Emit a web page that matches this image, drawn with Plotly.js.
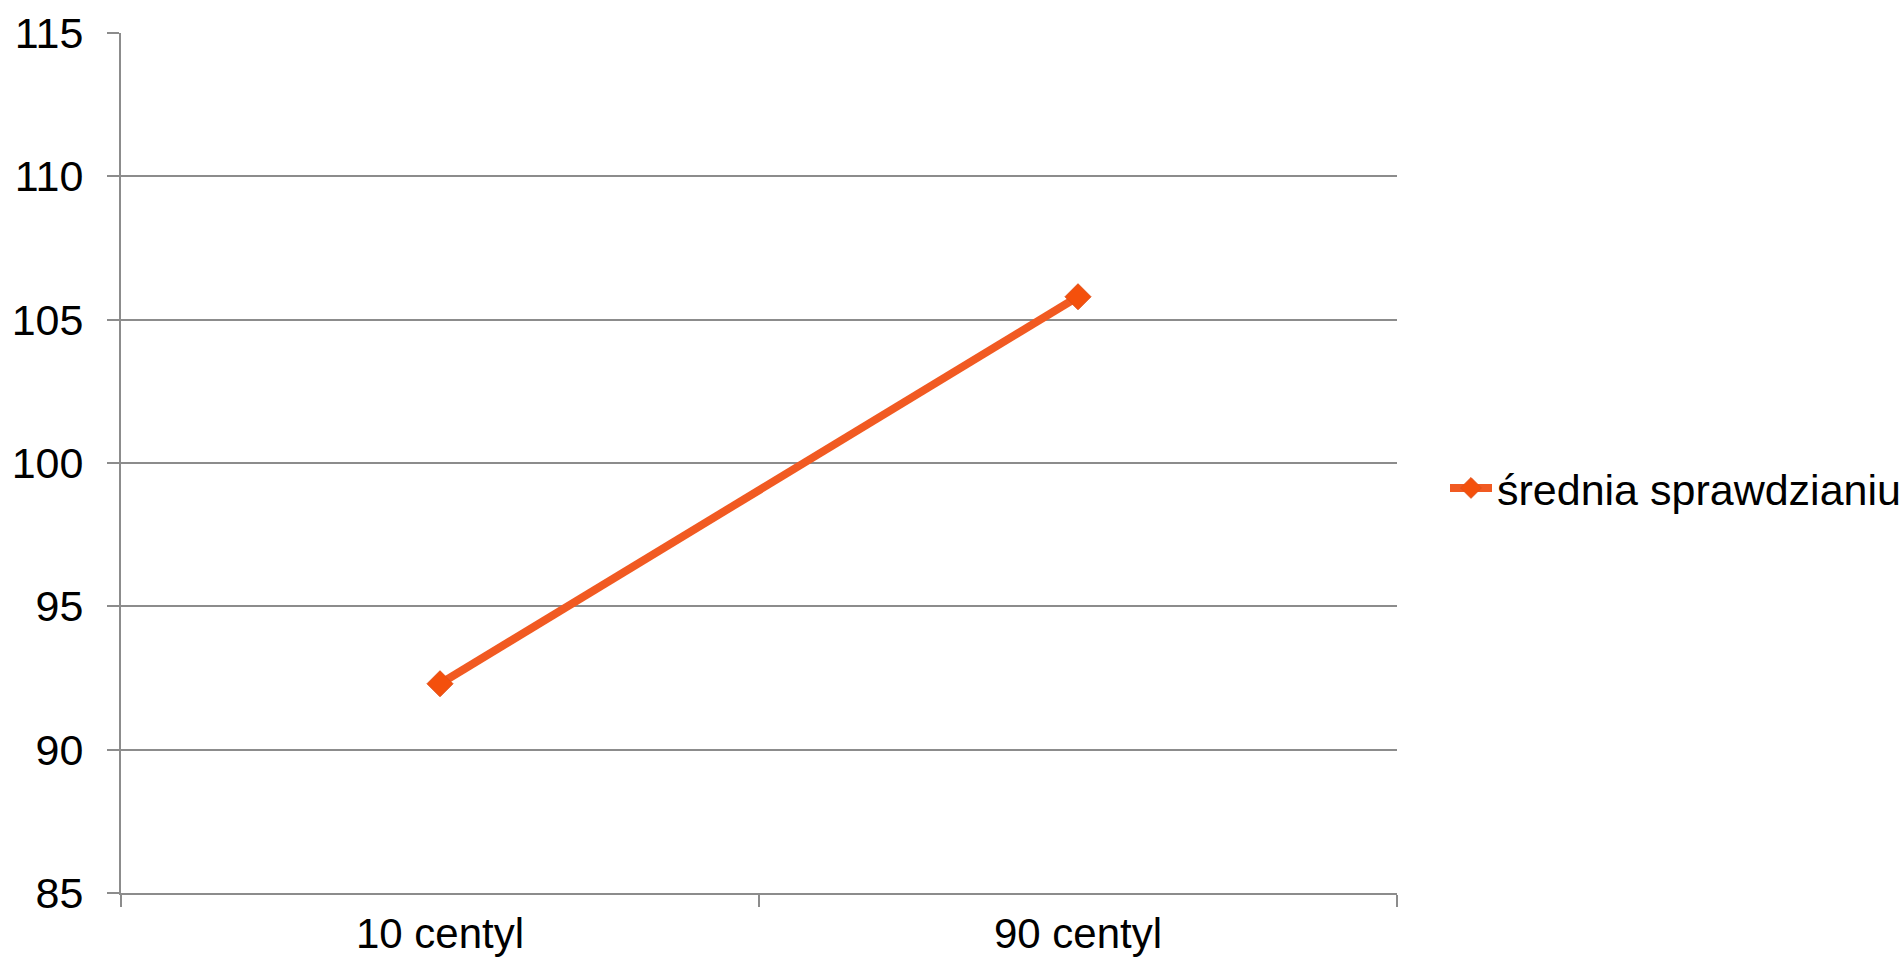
<!DOCTYPE html>
<html>
<head>
<meta charset="utf-8">
<script src="https://cdn.plot.ly/plotly-3.0.1.min.js"></script>
<style>html,body{margin:0;padding:0;background:#fff;}#chart{width:1900px;height:966px;}</style>
</head>
<body>
<div id="chart"></div>
<script>
const categories = ["10 centyl", "90 centyl"];
const seriesName = "średnia sprawdzianiu";
const seriesValues = [92.3, 105.8];
const yTickValues = [85, 90, 95, 100, 105, 110, 115];

const gray = "#8c8c8c";
const trace = {
  x: categories,
  y: seriesValues,
  name: seriesName,
  type: "scatter",
  mode: "lines+markers",
  line: {color: "#F15A22", width: 8},
  marker: {symbol: "diamond", size: 20, color: "#F4500C", line: {color: "#E0501A", width: 1}},
  showlegend: true
};

const layout = {
  width: 1900, height: 966,
  margin: {l: 121, r: 503, t: 33, b: 73},
  paper_bgcolor: "#ffffff", plot_bgcolor: "#ffffff",
  font: {family: "Liberation Sans, Arial, sans-serif", size: 43, color: "#000"},
  xaxis: {
    type: "category", range: [-0.5, 1.5], tickson: "boundaries",
    showline: true, linecolor: gray, linewidth: 2,
    ticks: "outside", ticklen: 12, tickcolor: gray, tickwidth: 2,
    showgrid: false, zeroline: false, ticklabelstandoff: 3,
    tickfont: {size: 42}
  },
  yaxis: {
    range: [85, 115], tickvals: yTickValues, ticktext: yTickValues.map(String),
    showline: true, linecolor: gray, linewidth: 2,
    ticks: "outside", ticklen: 12, tickcolor: gray, tickwidth: 2,
    showgrid: true, gridcolor: gray, gridwidth: 2, zeroline: false,
    ticklabelstandoff: 15, tickfont: {size: 43}
  },
  legend: {
    xref: "container", yref: "container",
    x: 1445/1900, y: 1 - 488/966, xanchor: "left", yanchor: "middle",
    font: {size: 43}, bgcolor: "rgba(0,0,0,0)", itemwidth: 42
  },
  showlegend: true
};

Plotly.newPlot("chart", [trace], layout, {displayModeBar: false, staticPlot: true});
</script>
</body>
</html>
